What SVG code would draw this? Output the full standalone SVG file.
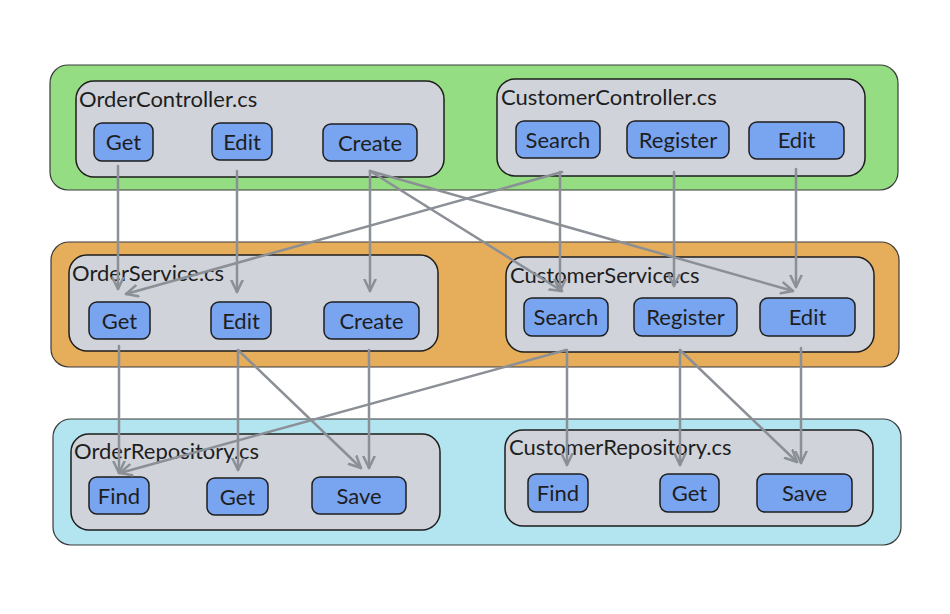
<svg xmlns="http://www.w3.org/2000/svg" width="950" height="614" viewBox="0 0 950 614">
<defs>
<style>
.band{stroke:#3a3a3a;stroke-width:1.2}
.cont{fill:#d0d3da;stroke:#1e1e1e;stroke-width:1.5}
.m{fill:#79a4f0;stroke:#1e1e1e;stroke-width:1.5}
.ct{font-family:Lato,"Open Sans",sans-serif;font-size:22px;fill:#1e1e1e}
.mt{font-family:Lato,"Open Sans",sans-serif;font-size:22px;fill:#1e1e1e;text-anchor:middle}
.c{fill:none;stroke:#8b8f96;stroke-width:2.5;stroke-linecap:round;marker-end:url(#ah)}
</style>
<marker id="ah" viewBox="0 0 14 14" refX="12.5" refY="7" markerWidth="14" markerHeight="14" orient="auto" markerUnits="userSpaceOnUse">
<path d="M1,1.5 L12.5,7 L1,12.5" fill="none" stroke="#8b8f96" stroke-width="2.5" stroke-linejoin="round" stroke-linecap="round"/>
</marker>
</defs>
<rect width="950" height="614" fill="#ffffff"/>

<g id="band-controllers"><rect class="band" x="50" y="65" width="848" height="125" rx="18" fill="#95dd82"/></g>
<g id="band-services"><rect class="band" x="51" y="242" width="848" height="125" rx="18" fill="#e6ad5a"/></g>
<g id="band-repositories"><rect class="band" x="53" y="419" width="848" height="126" rx="18" fill="#b3e5f0"/></g>

<g id="OrderController">
<rect class="cont" x="76" y="81" width="368" height="96" rx="18"/>
<text class="ct" x="79" y="107">OrderController.cs</text>
</g>
<g id="OrderController-Get"><rect class="m" x="94" y="123" width="59" height="38" rx="8"/><text class="mt" x="123.5" y="149.5">Get</text></g>
<g id="OrderController-Edit"><rect class="m" x="212" y="123" width="60" height="37" rx="8"/><text class="mt" x="242" y="149.5">Edit</text></g>
<g id="OrderController-Create"><rect class="m" x="323" y="124" width="94" height="37" rx="8"/><text class="mt" x="370" y="150.5">Create</text></g>

<g id="CustomerController">
<rect class="cont" x="497" y="79" width="368" height="97" rx="18"/>
<text class="ct" x="501" y="105">CustomerController.cs</text>
</g>
<g id="CustomerController-Search"><rect class="m" x="516" y="121" width="84" height="37" rx="8"/><text class="mt" x="558" y="147.5">Search</text></g>
<g id="CustomerController-Register"><rect class="m" x="627" y="121" width="102" height="37" rx="8"/><text class="mt" x="678" y="147.5">Register</text></g>
<g id="CustomerController-Edit"><rect class="m" x="749" y="122" width="95" height="37" rx="8"/><text class="mt" x="796.5" y="147.5">Edit</text></g>

<g id="OrderService">
<rect class="cont" x="69" y="255" width="369" height="96" rx="18"/>
<text class="ct" x="72" y="281">OrderService.cs</text>
</g>
<g id="OrderService-Get"><rect class="m" x="89" y="302" width="61" height="37" rx="8"/><text class="mt" x="119.5" y="328.5">Get</text></g>
<g id="OrderService-Edit"><rect class="m" x="211" y="302" width="60" height="37" rx="8"/><text class="mt" x="241" y="328.5">Edit</text></g>
<g id="OrderService-Create"><rect class="m" x="324" y="302" width="95" height="37" rx="8"/><text class="mt" x="371.5" y="328.5">Create</text></g>

<g id="CustomerService">
<rect class="cont" x="506" y="257" width="368" height="95" rx="18"/>
<text class="ct" x="510" y="283">CustomerService.cs</text>
</g>
<g id="CustomerService-Search"><rect class="m" x="524" y="298" width="84" height="38" rx="8"/><text class="mt" x="566" y="324.5">Search</text></g>
<g id="CustomerService-Register"><rect class="m" x="634" y="298" width="103" height="38" rx="8"/><text class="mt" x="685.5" y="324.5">Register</text></g>
<g id="CustomerService-Edit"><rect class="m" x="760" y="298" width="95" height="38" rx="8"/><text class="mt" x="807.5" y="324.5">Edit</text></g>

<g id="OrderRepository">
<rect class="cont" x="71" y="434" width="369" height="96" rx="18"/>
<text class="ct" x="74" y="459">OrderRepository.cs</text>
</g>
<g id="OrderRepository-Find"><rect class="m" x="89" y="477" width="60" height="37" rx="8"/><text class="mt" x="119" y="503.5">Find</text></g>
<g id="OrderRepository-Get"><rect class="m" x="207" y="478" width="61" height="37" rx="8"/><text class="mt" x="237.5" y="504.5">Get</text></g>
<g id="OrderRepository-Save"><rect class="m" x="312" y="477" width="94" height="37" rx="8"/><text class="mt" x="359" y="503.5">Save</text></g>

<g id="CustomerRepository">
<rect class="cont" x="505" y="430" width="368" height="96" rx="18"/>
<text class="ct" x="509" y="455">CustomerRepository.cs</text>
</g>
<g id="CustomerRepository-Find"><rect class="m" x="528" y="474" width="60" height="38" rx="8"/><text class="mt" x="558" y="500.5">Find</text></g>
<g id="CustomerRepository-Get"><rect class="m" x="660" y="474" width="59" height="38" rx="8"/><text class="mt" x="689.5" y="500.5">Get</text></g>
<g id="CustomerRepository-Save"><rect class="m" x="757" y="474" width="95" height="38" rx="8"/><text class="mt" x="804.5" y="500.5">Save</text></g>

<g id="connectors">
<path class="c" d="M118,166 L118,289"/>
<path class="c" d="M237,171 L237,292"/>
<path class="c" d="M370,171 L370,291"/>
<path class="c" d="M370,171 L562,291"/>
<path class="c" d="M370,171 L793,291"/>
<path class="c" d="M562,172 L126,294"/>
<path class="c" d="M560,172 L560,291"/>
<path class="c" d="M674,172 L674,286"/>
<path class="c" d="M796,169 L796,287"/>
<path class="c" d="M119,346 L119,473"/>
<path class="c" d="M238,350 L238,470"/>
<path class="c" d="M238,350 L361,468"/>
<path class="c" d="M369,350 L369,468"/>
<path class="c" d="M566,350 L120,473"/>
<path class="c" d="M567,350 L567,465"/>
<path class="c" d="M680,350 L680,465"/>
<path class="c" d="M680,350 L797,462"/>
<path class="c" d="M801,348 L801,463"/>
</g>
</svg>
